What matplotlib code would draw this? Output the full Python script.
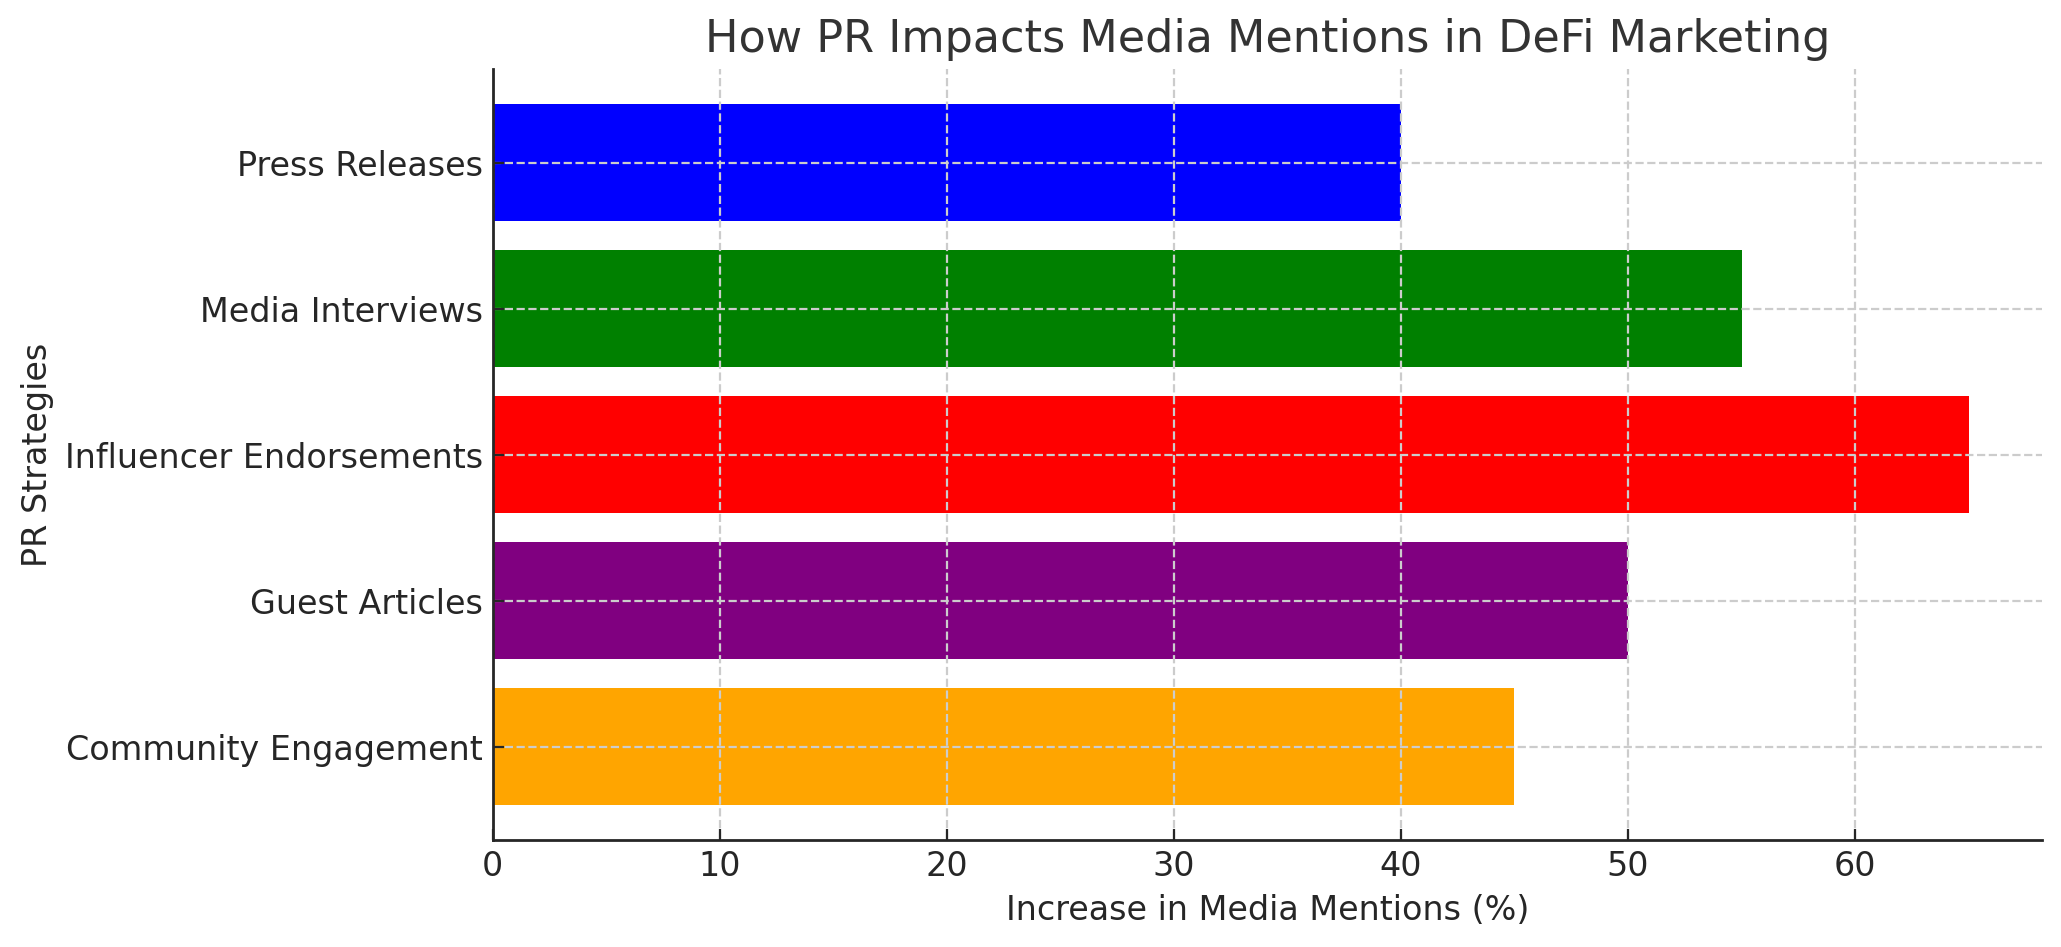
import matplotlib
matplotlib.use("Agg")
import matplotlib.pyplot as plt

# ── Data ──────────────────────────────────────────────────────────────────────
strategies = ["Press Releases", "Media Interviews", "Influencer Endorsements",
              "Guest Articles", "Community Engagement"]
increase = [40, 55, 65, 50, 45]
colors = ["blue", "green", "red", "purple", "orange"]

fig, ax = plt.subplots(figsize=(10.305, 4.735), dpi=200)

ax.barh(strategies, increase, color=colors)
ax.invert_yaxis()

ax.set_title("How PR Impacts Media Mentions in DeFi Marketing",
             fontsize=16, color="#333333")
ax.set_xlabel("Increase in Media Mentions (%)", fontsize=12, color="#262626")
ax.set_ylabel("PR Strategies", fontsize=12, color="#262626")

ax.tick_params(direction="in", labelsize=12, colors="#262626", length=4)
ax.grid(True, linestyle="--", color="#cccccc", linewidth=0.8)
ax.set_axisbelow(False)
for s in ("top", "right"):
    ax.spines[s].set_visible(False)
for s in ("left", "bottom"):
    ax.spines[s].set_color("#262626")
    ax.spines[s].set_linewidth(1.0)
    ax.spines[s].set_zorder(5)

plt.subplots_adjust(left=0.239, right=0.991, top=0.927, bottom=0.113)
fig.savefig("out.png", dpi=200)
